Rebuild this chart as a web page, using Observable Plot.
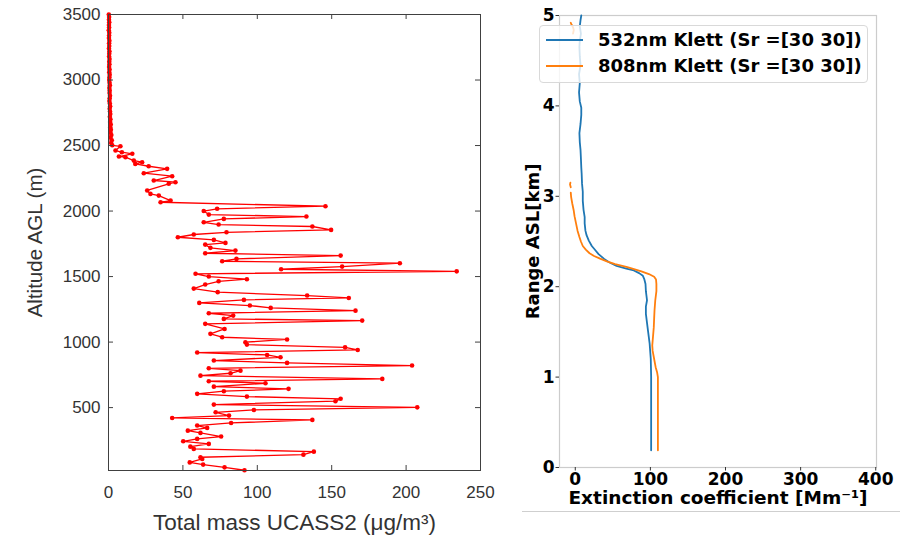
<!DOCTYPE html>
<html><head><meta charset="utf-8">
<script src="https://cdn.jsdelivr.net/npm/d3@7"></script>
<script src="https://cdn.jsdelivr.net/npm/@observablehq/plot@0.6"></script>
<style>
body{margin:0;background:#fff;}
#wrap{position:relative;width:910px;height:537px;overflow:hidden;background:#fff;}
#left,#right{position:absolute;top:0;}
#left{left:0}
#right{left:500px}
#legend{position:absolute;left:539px;top:25px;width:327px;height:56px;border:1px solid #d9d9d9;border-radius:4px;background:rgba(255,255,255,0.8);font-family:"DejaVu Sans";font-weight:bold;font-size:18px;color:#000;}
.lg{position:absolute;left:6px;width:37px;height:2px;}
.lt{position:absolute;left:58px;line-height:20px;white-space:nowrap;}
#baseline{position:absolute;left:522px;top:511px;width:378px;height:1px;background:#cfcfcf;}
</style></head>
<body>
<div id="wrap">
  <div id="left"></div>
  <div id="right"></div>
  <div id="baseline"></div>
  <div id="legend"></div>
</div>
<script>
// ---------- Left panel data (altitude AGL in m, total mass in ug/m3) ----------
const massAltitude = [
 3500,3480,3460,3440,3420,3400,3380,3360,3340,3320,3300,3280,3260,3240,3220,3200,3180,3160,3140,3120,
 3100,3080,3060,3040,3020,3000,2980,2960,2940,2920,2900,2880,2860,2840,2820,2800,2780,2760,2740,2720,
 2700,2680,2660,2640,2620,2600,2580,2560,2540,2520,
 2502,2494,2462,2449,2437,2416,2411,2385,2373,2360,2342,2322,2289,2266,2233,2220,2208,2157,2131,2118,2080,2067,
 2037,2017,2000,1973,1958,1940,1914,1897,1882,1856,1838,1821,1800,1780,1757,1744,1719,1698,1678,1660,1635,1617,
 1602,1576,1556,1540,1521,1500,1480,1464,1439,1408,1381,1355,1337,1322,1299,1279,1261,1240,1220,1202,1177,1164,
 1139,1100,1063,1037,1020,999,981,960,940,920,902,884,859,841,821,800,782,762,744,719,701,686,660,643,625,605,
 584,567,549,523,502,482,464,439,421,406,383,363,345,324,307,279,261,243,223,202,185,164,141,121,108,82,65,44,22
];
const massValue = [
 0.2,0.4,0.3,0.5,0.3,0.4,0.2,0.5,0.4,0.3,0.6,0.4,0.5,0.3,0.6,0.5,0.4,0.7,0.5,0.6,
 0.4,0.7,0.5,0.8,0.6,0.5,0.7,0.9,0.6,0.8,0.7,1.0,0.8,0.6,0.9,1.1,0.8,1.0,1.2,0.9,
 1.3,1.1,1.5,1.2,1.6,1.3,1.9,1.4,2.2,1.8,
 2.5,8,4.7,9,16,7,11.4,17,22.6,18,27,39.4,23.7,42.8,30.4,45,40.5,26,28.2,33.8,41.7,35,
 145.8,73,64,67.4,133,77.5,64,74,137,149.6,79.3,57.3,46.6,70.8,78.6,65,68.5,85.3,65,156,86,76.4,
 195.8,157,116,234,58.5,67.4,93,74,65,57.3,73.4,133.5,161.5,91,61,95,109,166,67.4,83.8,77.5,170.5,
 65,78,68.5,76.4,120,92,93,159,167.5,59.6,106.6,115.6,70.8,120,204,67.4,88.7,82,61.8,184,67.4,105.5,70.8,121,77.5,59.6,
 93,156,152.5,70.8,207.5,97.7,72,81,42.8,137,82.4,59.6,66.3,53.3,61.8,75.7,59.6,50.2,67.4,55,57.3,138,131,61.8,63,54.6,63.6,78,91.4
];
const leftXTicks = [0, 50, 100, 150, 200, 250];
const leftYTicks = [500, 1000, 1500, 2000, 2500, 3000, 3500];

// ---------- Right panel data (range ASL in km, extinction in Mm-1) ----------
const klett532Range = [0.19,0.5,0.8,1.0,1.2,1.37,1.5,1.6,1.7,1.78,1.85,1.95,2.03,2.08,2.12,2.15,2.18,2.2,2.23,2.27,2.31,2.36,2.4,2.45,2.51,2.57,2.62,2.7,2.77,2.85,2.95,3.05,3.14,3.25,3.32,3.42,3.51,3.6,3.7,3.8,3.9,3.98,4.05,4.15,4.25,4.35,4.45,4.55,4.65,4.72,4.8,4.88,4.95,5.0];
const klett532Ext   = [101,101,101,101,100.5,99,97,95.5,94,94,95.5,94,93.5,92,90,85,78,68,55,45,38,31,27,22,18,15,13.5,12.5,12.5,11,10,10,9,8.5,8,7.5,7,6,5.5,7,8,8,6,5,6,5,7,6,5.5,6,7.5,6,7,8];
const klett808Range = [0.19,0.5,0.8,1.0,1.05,1.11,1.2,1.29,1.35,1.45,1.55,1.65,1.74,1.85,1.95,2.03,2.08,2.11,2.14,2.17,2.2,2.22,2.25,2.28,2.31,2.34,2.37,2.41,2.45,2.5,2.55,2.62,2.7,2.78,2.84,2.92,2.99,3.04,3.07,3.1,3.13,3.15,3.5,4.80,4.84,4.87,4.90,4.92];
const klett808Ext   = [110,110,110,110,109,107,105,103,102.5,103.5,104.5,105,105.5,106.5,108,108,107.5,105,98,88,76,68,53,42,33,25,19,14,10,7.5,5.5,3,1,-1,-2,-4,-5.5,-6,NaN,-6,-7,-6.5,NaN,-3,-2,-3,-5,-6];
const rightXTicks = [0, 100, 200, 300, 400];
const rightYTicks = [0, 1, 2, 3, 4, 5];

const legendLabels = ["532nm Klett (Sr =[30 30])", "808nm Klett (Sr =[30 30])"];
const legendColors = ["#1f77b4", "#ff7f0e"];

// ---------- Left chart ----------
const massData = massAltitude.map((a, i) => ({alt: a, mass: massValue[i]}));
const LW = 500, LH = 537, Lml = 108, Lmr = 20, Lmt = 14, Lmb = 67;
const innerW = LW - Lml - Lmr, innerH = LH - Lmt - Lmb;
const axisCol = "#404040";
const left = Plot.plot({
  width: LW, height: LH,
  marginLeft: Lml, marginRight: Lmr, marginTop: Lmt, marginBottom: Lmb,
  x: {domain: [0, 250], label: null},
  y: {domain: [20, 3500], label: null},
  style: {fontFamily: "Liberation Sans, Arial, sans-serif", fontSize: "17px", color: "#333", background: "transparent"},
  marks: [
    Plot.line(massData, {x: "mass", y: "alt", stroke: "#ff0000", strokeWidth: 1.3}),
    Plot.dot(massData, {x: "mass", y: "alt", fill: "#ff0000", r: 2.3, stroke: "none"}),
    Plot.frame({stroke: axisCol, strokeWidth: 1}),
    Plot.tickX(leftXTicks, {x: d => d, stroke: axisCol, insetTop: innerH - 5}),
    Plot.tickX(leftXTicks, {x: d => d, stroke: axisCol, insetBottom: innerH - 5}),
    Plot.tickY(leftYTicks, {y: d => d, stroke: axisCol, insetRight: innerW - 5}),
    Plot.tickY(leftYTicks, {y: d => d, stroke: axisCol, insetLeft: innerW - 5}),
    Plot.axisX({ticks: leftXTicks, tickSize: 0, tickPadding: 15, label: null, tickFormat: "d"}),
    Plot.axisY({ticks: leftYTicks, tickSize: 0, tickPadding: 8, label: null, tickFormat: "d"}),
    Plot.text(["Total mass UCASS2 (μg/m³)"], {frameAnchor: "bottom", dy: 52, textAnchor: "middle", lineAnchor: "middle", fontSize: 22.5, fill: "#333"}),
    Plot.text(["Altitude AGL (m)"], {frameAnchor: "left", dx: -73, rotate: -90, textAnchor: "middle", lineAnchor: "middle", fontSize: 20.5, fill: "#333"})
  ]
});
document.getElementById("left").appendChild(left);

// ---------- Right chart ----------
const d532 = klett532Range.map((r, i) => ({r, v: klett532Ext[i]}));
const d808 = klett808Range.map((r, i) => ({r, v: klett808Ext[i]}));
const right = Plot.plot({
  width: 410, height: 537,
  marginLeft: 59, marginRight: 34, marginTop: 15, marginBottom: 70,
  x: {domain: [-21, 401], label: null},
  y: {domain: [0, 5], label: null},
  style: {fontFamily: "DejaVu Sans, sans-serif", fontSize: "17px", fontWeight: "bold", color: "#000", background: "transparent"},
  marks: [
    Plot.frame({stroke: "#cccccc", strokeWidth: 1.2}),
    Plot.axisX({ticks: rightXTicks, tickSize: 3.5, tickPadding: 1.5, label: null, stroke: "#333", tickFormat: "d"}),
    Plot.axisY({ticks: rightYTicks, tickSize: 3.5, tickPadding: 1.5, label: null, stroke: "#333", tickFormat: "d"}),
    Plot.line(d532, {x: "v", y: "r", stroke: legendColors[0], strokeWidth: 1.8}),
    Plot.line(d808, {x: "v", y: "r", stroke: legendColors[1], strokeWidth: 1.8}),
    Plot.text(["Extinction coefficient [Mm⁻¹]"], {frameAnchor: "bottom", dy: 31, textAnchor: "middle", lineAnchor: "middle", fontSize: 18.5, fontWeight: "bold", fill: "#000"}),
    Plot.text(["Range ASL[km]"], {frameAnchor: "left", dx: -26, rotate: -90, textAnchor: "middle", lineAnchor: "middle", fontSize: 18, fontWeight: "bold", fill: "#000"})
  ]
});
document.getElementById("right").appendChild(right);

// ---------- Legend ----------
const lg = document.getElementById("legend");
legendLabels.forEach((t, i) => {
  const ln = document.createElement("div");
  ln.className = "lg";
  ln.style.top = (13 + i * 26) + "px";
  ln.style.background = legendColors[i];
  lg.appendChild(ln);
  const tx = document.createElement("div");
  tx.className = "lt";
  tx.style.top = (4 + i * 26) + "px";
  tx.textContent = t;
  lg.appendChild(tx);
});
</script>
</body></html>
